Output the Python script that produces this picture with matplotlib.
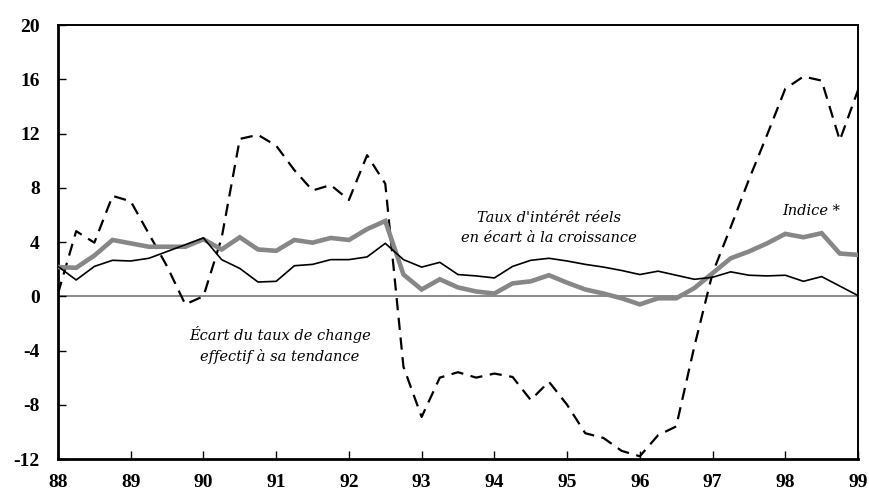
import numpy as np
import matplotlib
matplotlib.use("Agg")
import matplotlib.pyplot as plt

plt.rcParams["axes.unicode_minus"] = False

# Quarterly observations from 1988Q1 to 1999Q1
years = 88 + np.arange(45) / 4.0

taux_interet = [2.2, 1.2, 2.2, 2.65, 2.6, 2.8, 3.3, 3.8, 4.3, 2.7, 2.05, 1.05, 1.1,
                2.25, 2.35, 2.7, 2.7, 2.9, 3.9, 2.7, 2.15, 2.5, 1.6, 1.5, 1.35, 2.2,
                2.65, 2.8, 2.6, 2.35, 2.15, 1.9, 1.6, 1.85, 1.55, 1.25, 1.4, 1.8,
                1.55, 1.5, 1.55, 1.1, 1.45, 0.75, 0.05]

indice = [2.15, 2.1, 3.0, 4.15, 3.9, 3.65, 3.65, 3.65, 4.2, 3.45, 4.35, 3.45, 3.35,
          4.15, 3.95, 4.3, 4.15, 4.95, 5.55, 1.6, 0.5, 1.25, 0.65, 0.35, 0.2, 0.95,
          1.1, 1.55, 1.0, 0.5, 0.2, -0.15, -0.6, -0.15, -0.15, 0.6, 1.7, 2.8, 3.3,
          3.9, 4.6, 4.35, 4.65, 3.15, 3.05]

ecart_change = [0.2, 4.8, 3.95, 7.4, 7.0, 4.6, 2.2, -0.6, 0.0, 4.3, 11.6, 11.9, 11.1,
                9.3, 7.8, 8.2, 7.1, 10.4, 8.3, -5.2, -8.9, -6.0, -5.6, -6.0, -5.7,
                -5.95, -7.65, -6.3, -8.0, -10.1, -10.45, -11.4, -11.8, -10.25, -9.6,
                -3.7, 1.7, 5.1, 8.6, 11.9, 15.3, 16.2, 15.9, 11.5, 15.2]

y_ticks = [-12, -8, -4, 0, 4, 8, 12, 16, 20]
x_ticks = list(range(88, 100))
x_labels = [str(v) for v in x_ticks]

serif = ["Liberation Serif", "DejaVu Serif"]
serif_it = ["DejaVu Serif", "Liberation Serif"]

fig = plt.figure(figsize=(8.69, 4.98), dpi=100)
ax = fig.add_axes([58 / 869, 1 - 459 / 498, 800 / 869, 434 / 498])

ax.axhline(0, color="#777777", lw=1.2, zorder=1)
ax.plot(years, ecart_change, color="black", lw=1.6, linestyle=(0, (5.5, 3.4)), zorder=2)
ax.plot(years, indice, color="#878787", lw=3.3, solid_joinstyle="miter", zorder=3)
ax.plot(years, taux_interet, color="black", lw=1.2, zorder=4)

ax.set_xlim(88, 99)
ax.set_ylim(-12, 20)
ax.set_yticks(y_ticks)
ax.set_yticklabels([str(v) for v in y_ticks])
ax.set_xticks(x_ticks)
ax.set_xticklabels(x_labels)

ax.tick_params(axis="both", direction="in", length=6, width=1, top=False, right=False,
               labelsize=14)
ax.tick_params(axis="y", pad=13)
ax.tick_params(axis="x", pad=11)
for lab in ax.get_xticklabels() + ax.get_yticklabels():
    lab.set_fontfamily(serif)
    lab.set_fontweight("bold")

for side in ["left", "bottom"]:
    ax.spines[side].set_linewidth(2.0)
for side in ["top", "right"]:
    ax.spines[side].set_linewidth(1.4)

txt = dict(fontfamily=serif_it, fontstyle="italic", fontsize=10.5, ha="center", va="center")
ax.text(91.05, -3.6, "Écart du taux de change\neffectif à sa tendance", linespacing=1.55, **txt)
ax.text(94.75, 5.0, "Taux d'intérêt réels\nen écart à la croissance", linespacing=1.55, **txt)
ax.text(98.35, 6.3, "Indice *", **txt)

fig.savefig("out.png", dpi=100)
